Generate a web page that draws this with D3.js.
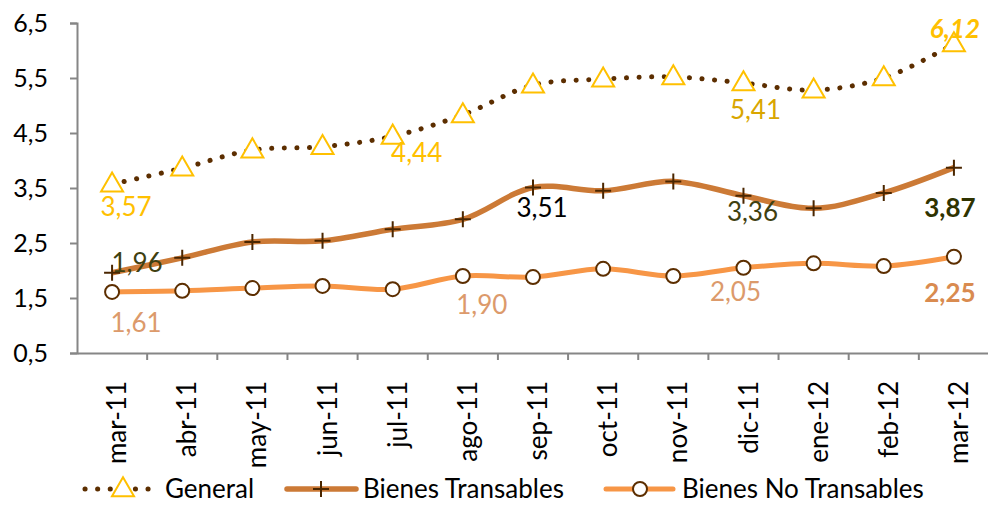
<!DOCTYPE html>
<html><head><meta charset="utf-8">
<script src="https://cdn.jsdelivr.net/npm/d3@7"></script>
<style>
html,body{margin:0;padding:0;background:#fff;}
svg{display:block;font-family:Lato,"Noto Sans",sans-serif;}
</style></head>
<body><svg id="c" width="988" height="505"></svg>
<script>
const categories = ["mar-11","abr-11","may-11","jun-11","jul-11","ago-11","sep-11","oct-11","nov-11","dic-11","ene-12","feb-12","mar-12"];
const general = [3.57,3.86,4.19,4.25,4.44,4.83,5.37,5.48,5.52,5.41,5.28,5.50,6.12];
const transables = [1.96,2.23,2.52,2.54,2.75,2.93,3.51,3.45,3.62,3.36,3.13,3.41,3.87];
const noTransables = [1.61,1.63,1.68,1.72,1.66,1.90,1.88,2.03,1.90,2.05,2.13,2.08,2.25];
const yTicks = [0.5,1.5,2.5,3.5,4.5,5.5,6.5];
const seriesNames = ["General","Bienes Transables","Bienes No Transables"];

const svg = d3.select("#c");
const x = d3.scaleBand().domain(categories).range([77, 989]);
const y = d3.scaleLinear().domain([0.5, 6.5]).range([353, 23]);
const cx = c => x(c) + x.bandwidth()/2;
const fmt = v => d3.format(".2f")(v).replace(".", ",");

// axes
const axisColor = "#868686";
const yAxis = svg.append("g").attr("transform","translate(77,0)")
  .call(d3.axisLeft(y).tickValues(yTicks).tickSize(7).tickPadding(22).tickFormat(d => d3.format(".1f")(d).replace(".", ",")));
const xAxis = svg.append("g").attr("transform","translate(0,353)")
  .call(d3.axisBottom(x).tickSize(0).tickFormat(""));
[yAxis, xAxis].forEach(g => {
  g.select(".domain").attr("stroke", axisColor).attr("stroke-width", 2);
  g.selectAll(".tick line").attr("stroke", axisColor).attr("stroke-width", 2);
});
yAxis.selectAll(".tick text").attr("fill","#000").attr("font-size",25).attr("font-family","Lato");
// category boundary tick marks
xAxis.selectAll(".bnd").data(categories.slice(1)).enter().append("line")
  .attr("x1", d => x(d)).attr("x2", d => x(d)).attr("y1", 0).attr("y2", 7)
  .attr("stroke", axisColor).attr("stroke-width", 2);
// category labels
svg.append("g").selectAll("text").data(categories).enter().append("text")
  .attr("transform", d => `translate(${cx(d)+5},${381}) rotate(-90)`)
  .attr("text-anchor","end").attr("dy","0.35em")
  .attr("font-size",26).attr("fill","#000").text(d => d);

const curve = d3.curveCatmullRom.alpha(0.5);
const line = d3.line().x((d,i) => cx(categories[i])).y(d => y(d)).curve(curve);

// No transables
svg.append("path").datum(noTransables).attr("d", line)
  .attr("fill","none").attr("stroke","#F79646").attr("stroke-width",5);
// Transables
svg.append("path").datum(transables).attr("d", line)
  .attr("fill","none").attr("stroke","#CC7A36").attr("stroke-width",5.5);
// General dotted
svg.append("path").datum(general).attr("d", line)
  .attr("fill","none").attr("stroke","#5C2E00").attr("stroke-width",5)
  .attr("stroke-linecap","round").attr("stroke-dasharray","0.1 12.5");

// markers
const tri = d3.symbol().type(d3.symbolTriangle).size(210);
svg.append("g").selectAll("path").data(general).enter().append("path")
  .attr("d", tri).attr("transform",(d,i)=>`translate(${cx(categories[i])},${y(d)+1})`)
  .attr("fill","#fff").attr("stroke","#FFC000").attr("stroke-width",2);
svg.append("g").selectAll("path").data(transables).enter().append("path")
  .attr("d", d => "M-8,0H8M0,-8V8").attr("transform",(d,i)=>`translate(${cx(categories[i])},${y(d)})`)
  .attr("stroke","#4A2600").attr("stroke-width",2);
svg.append("g").selectAll("circle").data(noTransables).enter().append("circle")
  .attr("cx",(d,i)=>cx(categories[i])).attr("cy",d=>y(d)).attr("r",7)
  .attr("fill","#fff").attr("stroke","#5C2E00").attr("stroke-width",2);

// data labels
const labels = [
  {s:general, i:0, dx:14, dy:23, c:"#FFC000"},
  {s:transables, i:0, dx:25, dy:-10, c:"#3F4010"},
  {s:noTransables, i:0, dx:24, dy:31, c:"#DC9A6B"},
  {s:general, i:4, dx:24, dy:17, c:"#FFC000"},
  {s:transables, i:6, dx:9, dy:20, c:"#000"},
  {s:noTransables, i:5, dx:19, dy:29, c:"#DC9A6B"},
  {s:general, i:9, dx:12, dy:27, c:"#D9A600"},
  {s:transables, i:9, dx:9, dy:16, c:"#3F4010"},
  {s:noTransables, i:9, dx:-8, dy:24, c:"#DC9A6B"},
  {s:general, i:12, dx:1, dy:-15, c:"#FFC000", b:true, it:true},
  {s:transables, i:12, dx:-4, dy:40, c:"#2F3300", b:true, bg:true},
  {s:noTransables, i:12, dx:-4, dy:36, c:"#D98B50", b:true}
];
const lg = svg.append("g");
labels.forEach(l => {
  const px = cx(categories[l.i]) + l.dx, py = y(l.s[l.i]) + l.dy;
  if (l.bg) lg.append("rect").attr("x",px-30).attr("y",py-16).attr("width",64).attr("height",32).attr("fill","#fff");
  lg.append("text").attr("x",px).attr("y",py).attr("dy","0.35em").attr("text-anchor","middle")
    .attr("font-size",26).attr("fill",l.c)
    .attr("font-weight",l.b?"bold":"normal").attr("font-style",l.it?"italic":"normal")
    .text(fmt(l.s[l.i]));
});

// legend
const leg = svg.append("g").attr("transform","translate(0,489)");
const items = [
  {x0:85, x1:160, t:165, name:seriesNames[0]},
  {x0:287, x1:356, t:363, name:seriesNames[1]},
  {x0:606, x1:673, t:682, name:seriesNames[2]}
];
leg.append("line").attr("x1",items[0].x0).attr("x2",items[0].x1).attr("y1",0).attr("y2",0)
  .attr("stroke","#5C2E00").attr("stroke-width",5).attr("stroke-linecap","round").attr("stroke-dasharray","0.1 12.5");
leg.append("path").attr("d",tri).attr("transform",`translate(123,1)`)
  .attr("fill","#fff").attr("stroke","#FFC000").attr("stroke-width",2);
leg.append("line").attr("x1",items[1].x0).attr("x2",items[1].x1).attr("y1",0).attr("y2",0)
  .attr("stroke","#CC7A36").attr("stroke-width",5.5).attr("stroke-linecap","round");
leg.append("path").attr("d","M-8,0H8M0,-8V8").attr("transform",`translate(321,0)`)
  .attr("stroke","#4A2600").attr("stroke-width",2);
leg.append("line").attr("x1",items[2].x0).attr("x2",items[2].x1).attr("y1",0).attr("y2",0)
  .attr("stroke","#F79646").attr("stroke-width",5).attr("stroke-linecap","round");
leg.append("circle").attr("cx",640).attr("cy",0).attr("r",7)
  .attr("fill","#fff").attr("stroke","#5C2E00").attr("stroke-width",2);
leg.selectAll("text").data(items).enter().append("text")
  .attr("x",d=>d.t).attr("y",0).attr("dy","0.35em").attr("font-size",26).attr("fill","#000")
  .text(d=>d.name);
</script></body></html>
